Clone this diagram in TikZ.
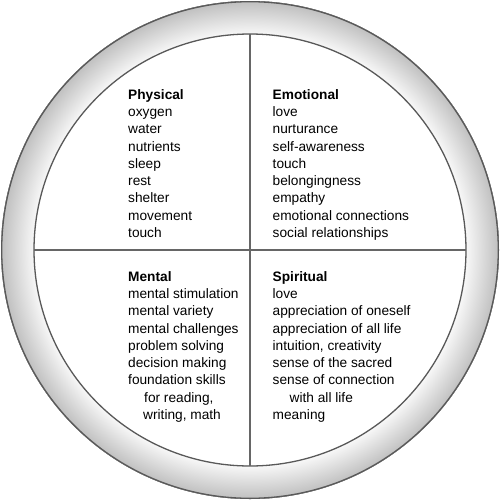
\documentclass[tikz,border=0pt]{standalone}
\usepackage{fontspec}
\setmainfont{Liberation Sans}
\pgfdeclareradialshading{ringshade}{\pgfpoint{0bp}{0bp}}{color(0bp)=(white); color(21.7bp)=(gray!6); color(25bp)=(gray!50); color(50bp)=(gray!50)}

\begin{document}
\begin{tikzpicture}[x=1pt, y=-1pt,
  rim/.style={draw=black!65, line width=1.3pt},
  divider/.style={draw=black!60, line width=2pt},
  needs/.style={anchor=north west, inner sep=0pt, align=left, text=black,
    font=\fontsize{13.7}{17.3}\selectfont}]
  \useasboundingbox (0,0) rectangle (500,501);
  \coordinate (c) at (250,250);
  % shaded ring
  \fill[even odd rule, shading=ringshade] (c) circle[radius=249] (c) circle[radius=216];
  \draw[rim] (c) circle[radius=248.3];
  \draw[rim] (c) circle[radius=216];
  % quadrant dividers
  \coordinate (w) at (34,250);
  \coordinate (e) at (466,250);
  \coordinate (n) at (250,34);
  \coordinate (s) at (250,466);
  \draw[divider] (w) -- (e);
  \draw[divider] (n) -- (s);
  % the four lists
  \node[needs] (physical) at (128,89) {\textbf{Physical}\\oxygen\\water\\nutrients\\sleep\\rest\\shelter\\movement\\touch};
  \node[needs] (emotional) at (272.5,89) {\textbf{Emotional}\\love\\nurturance\\self-awareness\\touch\\belongingness\\empathy\\emotional connections\\social relationships};
  \node[needs] (mental) at (128,271) {\textbf{Mental}\\mental stimulation\\mental variety\\mental challenges\\problem solving\\decision making\\foundation skills\\\hspace*{16pt}for reading,\\\hspace*{15pt}writing, math};
  \node[needs] (spiritual) at (272.5,271) {\textbf{Spiritual}\\love\\appreciation of oneself\\appreciation of all life\\intuition, creativity\\sense of the sacred\\sense of connection\\\hspace*{17pt}with all life\\meaning};
\end{tikzpicture}
\end{document}
